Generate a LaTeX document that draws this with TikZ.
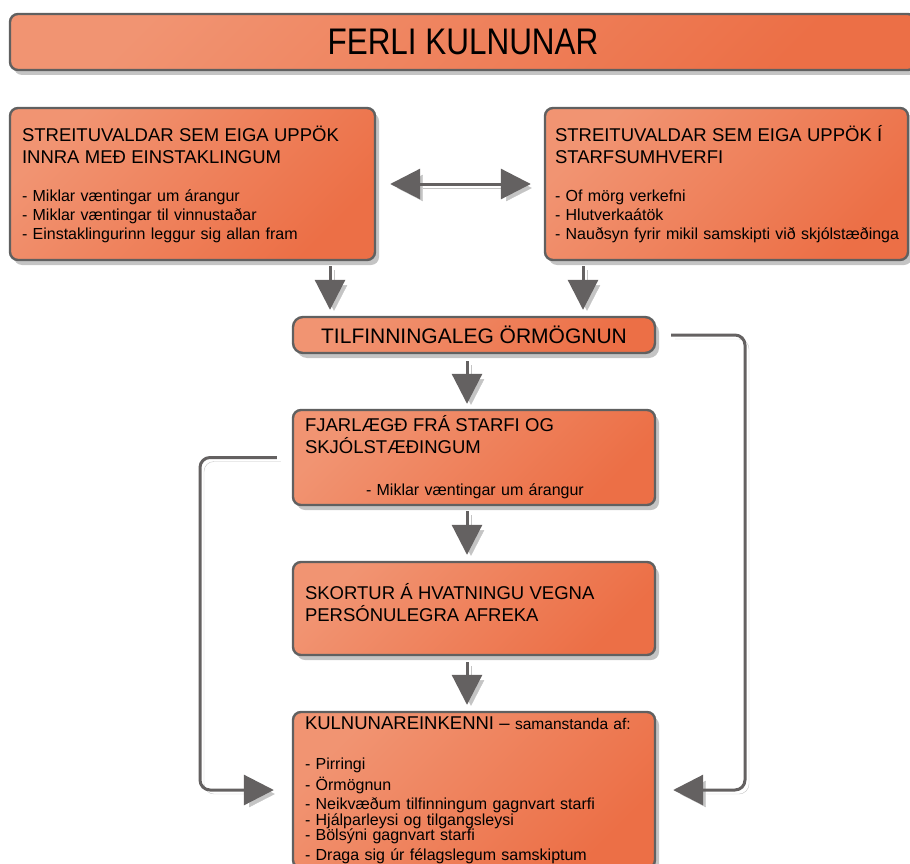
\documentclass[tikz,border=0pt]{standalone}
\usepackage{fontspec}
\setmainfont{Liberation Sans}
\newfontfamily\titlefont[FakeStretch=0.85]{Liberation Sans}
\usetikzlibrary{arrows.meta,shadows}

\definecolor{boxlight}{HTML}{F19472}
\definecolor{boxdark}{HTML}{EC6F46}
\definecolor{boxline}{HTML}{606060}
\definecolor{shadegrey}{HTML}{C4C4C4}
\definecolor{arrowgrey}{HTML}{646161}

\newcommand\hdsize{\fontsize{18.5}{19}\selectfont}
\newcommand\bodysize{\fontsize{16}{19}\selectfont}

\tikzset{
  stage/.style={rounded corners=8pt, draw=boxline, line width=2.4pt,
    top color=boxlight, bottom color=boxdark, shading angle=45,
    drop shadow={shadow xshift=4pt, shadow yshift=-5pt, fill=shadegrey, opacity=1},
    align=left, inner xsep=12pt, font=\bodysize},
  flow/.style={draw=arrowgrey, line width=3pt, -{Triangle[length=30pt,width=30pt]},
    preaction={draw=shadegrey, transform canvas={shift={(4pt,-4pt)}}}},
  twoway/.style={flow, {Triangle[length=30pt,width=30pt]}-{Triangle[length=30pt,width=30pt]}},
}

\begin{document}
\begin{tikzpicture}[x=1pt,y=-1pt]
    \clip (0,0) rectangle (910,864);

    % title bar
    \node[stage, minimum width=906pt, minimum height=56pt, align=center,
      font=\titlefont\fontsize{37}{40}\selectfont] (title) at (463,42) {FERLI KULNUNAR};

    % the two kinds of stressors
    \node[stage, minimum width=365pt, minimum height=152pt, text width=341pt] (inner) at (192.5,184)
      {{\hdsize STREITUVALDAR SEM EIGA UPPÖK\\[3pt] INNRA MEÐ EINSTAKLINGUM}\\[19pt]
       - Miklar væntingar um árangur\\
       - Miklar væntingar til vinnustaðar\\
       - Einstaklingurinn leggur sig allan fram};
    \node[stage, minimum width=363pt, minimum height=152pt, text width=343pt, inner xsep=10pt] (outer) at (726.5,184)
      {{\hdsize STREITUVALDAR SEM EIGA UPPÖK Í\\[3pt] STARFSUMHVERFI}\\[19pt]
       - Of mörg verkefni\\
       - Hlutverkaátök\\
       \mbox{- Nauðsyn fyrir mikil samskipti við skjólstæðinga}};

    % the chain in the middle
    \node[stage, rounded corners=10pt, minimum width=362pt, minimum height=36pt, align=center,
      font=\fontsize{21}{24}\selectfont] (exhaust) at (474,335) {TILFINNINGALEG ÖRMÖGNUN};
    \node[stage, minimum width=362pt, minimum height=95pt, text width=338pt] (distance) at (474,457.5)
      {{\hdsize FJARLÆGÐ FRÁ STARFI OG\\[3pt] SKJÓLSTÆÐINGUM}\\[23pt]
       \hspace*{61pt}- Miklar væntingar um árangur};
    \node[stage, minimum width=362pt, minimum height=93pt, text width=338pt] (motivation) at (474,608.5)
      {\hdsize SKORTUR Á HVATNINGU VEGNA\\[3pt] PERSÓNULEGRA AFREKA\\[-6pt]\mbox{}};
    \node[stage, minimum width=362pt, minimum height=156pt, text width=338pt] (symptoms) at (474,790)
      {{\hdsize KULNUNAREINKENNI –} {\fontsize{15.5}{19}\selectfont samanstanda af:}\\[21pt]
       - Pirringi\\[2pt]
       - Örmögnun\\
       - Neikvæðum tilfinningum gagnvart starfi\\[-3pt]
       - Hjálparleysi og tilgangsleysi\\[-4pt]
       - Bölsýni gagnvart starfi\\[1pt]
       - Draga sig úr félagslegum samskiptum};

    \coordinate (colA) at (330,0);
    \coordinate (colB) at (583,0);
    \coordinate (colM) at (467,0);
    \coordinate (railL) at (200,0);
    \coordinate (railR) at (745,0);

    \draw[twoway, shorten <=14pt, shorten >=13pt] (inner.east) -- (outer.west);
    \draw[flow, shorten <=5pt, shorten >=6pt] (inner.south -| colA) -- (exhaust.north -| colA);
    \draw[flow, shorten <=5pt, shorten >=6pt] (outer.south -| colB) -- (exhaust.north -| colB);
    \draw[flow, shorten <=7pt, shorten >=5pt] (exhaust.south -| colM) -- (distance.north -| colM);
    \draw[flow, shorten <=5pt, shorten >=6pt] (distance.south -| colM) -- (motivation.north -| colM);
    \draw[flow, shorten <=6pt, shorten >=6pt] (motivation.south -| colM) -- (symptoms.north -| colM);

    % side tracks
    \draw[flow, rounded corners=10pt, shorten <=15pt, shorten >=18pt]
      (distance.west) -- (distance.west -| railL) -- (symptoms.west -| railL) -- (symptoms.west);
    \draw[flow, rounded corners=10pt, shorten <=15pt, shorten >=17pt]
      (exhaust.east) -- (exhaust.east -| railR) -- (symptoms.east -| railR) -- (symptoms.east);
\end{tikzpicture}
\end{document}
